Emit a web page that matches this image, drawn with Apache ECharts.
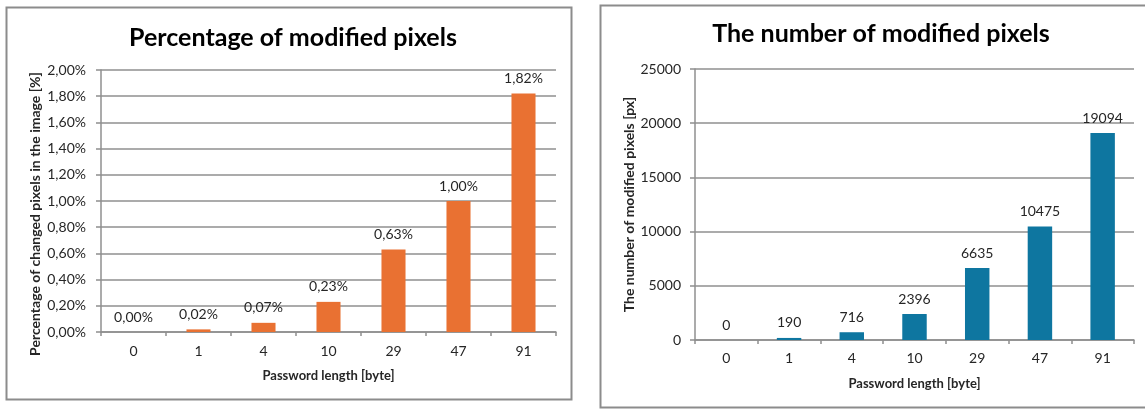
<!DOCTYPE html>
<html>
<head>
<meta charset="utf-8">
<script src="https://cdn.jsdelivr.net/npm/echarts@6/dist/echarts.min.js"></script>
<style>
  html, body { margin: 0; padding: 0; background: #ffffff; }
  #chart { width: 1145px; height: 410px; }
</style>
</head>
<body>
<div id="chart"></div>
<script>
// Password length in bytes (x-axis categories, shared by both panels)
const passwordLengths = ['0', '1', '4', '10', '29', '47', '91'];
// Share of changed pixels in the image, in percent
const changedPercent = [0.00, 0.02, 0.07, 0.23, 0.63, 1.00, 1.82];
// Absolute count of modified pixels
const modifiedCount = [0, 190, 716, 2396, 6635, 10475, 19094];

const leftTitle = 'Percentage of modified pixels';
const rightTitle = 'The number of modified pixels';
const xName = 'Password length [byte]';
const leftYName = 'Percentage of changed pixels in the image [%]';
const rightYName = 'The number of modified pixels [px]';

const FONT = 'Lato, "Liberation Sans", Arial, sans-serif';
const TITLE_FONT = 'Lato, "Noto Sans", sans-serif';
const GRID_COLOR = '#8f8f8f';
const TEXT_COLOR = '#262626';

const pct = v => v.toFixed(2).replace('.', ',') + '%';

function xAxisFor(gridIndex, nameGap, margin) {
  return {
    type: 'category',
    gridIndex: gridIndex,
    data: passwordLengths,
    name: xName,
    nameLocation: 'middle',
    nameGap: nameGap,
    nameTextStyle: { fontFamily: FONT, fontWeight: 'bold', fontSize: 13, color: TEXT_COLOR },
    axisLine: { show: true, lineStyle: { color: GRID_COLOR, width: 1.5 } },
    axisTick: { show: true, length: 4, lineStyle: { color: GRID_COLOR, width: 1.5 } },
    axisLabel: { fontFamily: FONT, fontSize: 14, color: TEXT_COLOR, margin: margin }
  };
}

function yAxisFor(gridIndex, opts) {
  return Object.assign({
    type: 'value',
    gridIndex: gridIndex,
    nameLocation: 'middle',
    axisLine: { show: true, lineStyle: { color: GRID_COLOR, width: 1.5 } },
    axisTick: { show: true, length: 5, lineStyle: { color: GRID_COLOR, width: 1.5 } },
    splitLine: { show: true, lineStyle: { color: GRID_COLOR, width: 1.5 } }
  }, opts);
}

const chart = echarts.init(document.getElementById('chart'), null, { renderer: 'canvas' });

chart.setOption({
  backgroundColor: '#ffffff',
  animation: false,
  graphic: [
    { type: 'rect', shape: { x: 6.5, y: 7.5, width: 565, height: 392 },
      style: { fill: 'none', stroke: '#8c8c8c', lineWidth: 2 }, z: 100 },
    { type: 'rect', shape: { x: 600.5, y: 5.5, width: 600, height: 402 },
      style: { fill: 'none', stroke: '#8c8c8c', lineWidth: 2 }, z: 100 }
  ],
  title: [
    { text: leftTitle, left: 288, top: 20, textAlign: 'center',
      textStyle: { fontFamily: TITLE_FONT, fontWeight: 'bold', fontSize: 25, color: '#000' } },
    { text: rightTitle, left: 876, top: 16, textAlign: 'center',
      textStyle: { fontFamily: TITLE_FONT, fontWeight: 'bold', fontSize: 25, color: '#000' } }
  ],
  grid: [
    { left: 101, top: 70, width: 455, height: 262 },
    { left: 695, top: 69, width: 439, height: 271 }
  ],
  xAxis: [ xAxisFor(0, 37, 12), xAxisFor(1, 37, 11) ],
  yAxis: [
    yAxisFor(0, {
      min: 0, max: 0.02, interval: 0.002,
      name: leftYName, nameGap: 59,
      // extra padding on one side nudges the rotated name slightly downward
      nameTextStyle: { fontFamily: FONT, fontWeight: 'bold', fontSize: 14, color: TEXT_COLOR,
        padding: [0, 26, 0, 0] },
      axisLabel: { fontFamily: FONT, fontSize: 14, color: TEXT_COLOR, margin: 15,
        formatter: v => pct(v * 100) }
    }),
    yAxisFor(1, {
      min: 0, max: 25000, interval: 5000,
      name: rightYName, nameGap: 57,
      nameTextStyle: { fontFamily: FONT, fontWeight: 'bold', fontSize: 14, color: TEXT_COLOR },
      axisLabel: { fontFamily: FONT, fontSize: 14, color: TEXT_COLOR, margin: 14,
        formatter: v => String(v) }
    })
  ],
  series: [
    {
      type: 'bar', xAxisIndex: 0, yAxisIndex: 0,
      data: changedPercent.map(v => v / 100),
      barWidth: '37%',
      itemStyle: { color: '#E97132' },
      label: { show: true, position: 'top', distance: 8,
        fontFamily: FONT, fontSize: 14, color: TEXT_COLOR,
        formatter: p => pct(p.value * 100) }
    },
    {
      type: 'bar', xAxisIndex: 1, yAxisIndex: 1,
      data: modifiedCount,
      barWidth: '39%',
      itemStyle: { color: '#0E76A0' },
      label: { show: true, position: 'top', distance: 8,
        fontFamily: FONT, fontSize: 14, color: TEXT_COLOR }
    }
  ]
});
</script>
</body>
</html>
